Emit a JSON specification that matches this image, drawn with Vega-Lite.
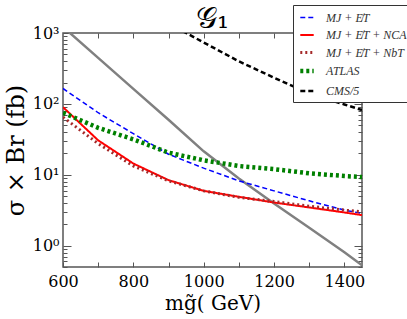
{
  "$schema": "https://vega.github.io/schema/vega-lite/v6.json",
  "width": 299,
  "height": 234,
  "autosize": "none",
  "padding": {"left": 63, "top": 33, "right": 45, "bottom": 52},
  "title": {"text": "𝒢₁", "font": "DejaVu Serif", "fontSize": 30, "fontWeight": "normal", "color": "black", "offset": 2, "dy": 31},
  "config": {
    "view": {"stroke": "#555", "strokeWidth": 1.5},
    "axis": {"grid": false, "domain": false, "tickColor": "#555", "labelColor": "black", "labelFont": "DejaVu Serif", "labelFontSize": 16, "titleFont": "DejaVu Serif", "titleFontWeight": "normal", "titleColor": "black", "labelOverlap": false, "labelFlush": false}
  },
  "datasets": {
    "gray": [
      {"m": 600, "v": 1220}, {"m": 700, "v": 445}, {"m": 800, "v": 163}, {"m": 900, "v": 59.7},
      {"m": 1000, "v": 21.4}, {"m": 1100, "v": 8.85}, {"m": 1200, "v": 3.93}, {"m": 1300, "v": 1.79},
      {"m": 1400, "v": 0.81}, {"m": 1450, "v": 0.53}
    ],
    "curves": [
      {"s": "MJ + E̸T", "m": 600, "v": 165}, {"s": "MJ + E̸T", "m": 700, "v": 75}, {"s": "MJ + E̸T", "m": 800, "v": 38},
      {"s": "MJ + E̸T", "m": 900, "v": 19.5}, {"s": "MJ + E̸T", "m": 1000, "v": 12.4}, {"s": "MJ + E̸T", "m": 1100, "v": 8.2},
      {"s": "MJ + E̸T", "m": 1200, "v": 5.93}, {"s": "MJ + E̸T", "m": 1300, "v": 4.29}, {"s": "MJ + E̸T", "m": 1400, "v": 3.17},
      {"s": "MJ + E̸T", "m": 1450, "v": 2.85},
      {"s": "MJ + E̸T + NCA", "m": 600, "v": 90}, {"s": "MJ + E̸T + NCA", "m": 700, "v": 30.6}, {"s": "MJ + E̸T + NCA", "m": 800, "v": 14.4},
      {"s": "MJ + E̸T + NCA", "m": 900, "v": 8.4}, {"s": "MJ + E̸T + NCA", "m": 1000, "v": 5.93}, {"s": "MJ + E̸T + NCA", "m": 1100, "v": 4.89},
      {"s": "MJ + E̸T + NCA", "m": 1200, "v": 4.06}, {"s": "MJ + E̸T + NCA", "m": 1300, "v": 3.46}, {"s": "MJ + E̸T + NCA", "m": 1400, "v": 2.94},
      {"s": "MJ + E̸T + NCA", "m": 1450, "v": 2.7},
      {"s": "MJ + E̸T + NbT", "m": 600, "v": 65}, {"s": "MJ + E̸T + NbT", "m": 700, "v": 27.5}, {"s": "MJ + E̸T + NbT", "m": 800, "v": 13.3},
      {"s": "MJ + E̸T + NbT", "m": 900, "v": 8.2}, {"s": "MJ + E̸T + NbT", "m": 1000, "v": 5.93}, {"s": "MJ + E̸T + NbT", "m": 1100, "v": 4.8},
      {"s": "MJ + E̸T + NbT", "m": 1200, "v": 4.2}, {"s": "MJ + E̸T + NbT", "m": 1300, "v": 3.6}, {"s": "MJ + E̸T + NbT", "m": 1400, "v": 3.17},
      {"s": "MJ + E̸T + NbT", "m": 1450, "v": 3.0},
      {"s": "ATLAS", "m": 600, "v": 75}, {"s": "ATLAS", "m": 700, "v": 46}, {"s": "ATLAS", "m": 800, "v": 31.6},
      {"s": "ATLAS", "m": 900, "v": 20.5}, {"s": "ATLAS", "m": 1000, "v": 16}, {"s": "ATLAS", "m": 1100, "v": 13.3},
      {"s": "ATLAS", "m": 1200, "v": 12}, {"s": "ATLAS", "m": 1300, "v": 10.5}, {"s": "ATLAS", "m": 1400, "v": 9.6},
      {"s": "ATLAS", "m": 1450, "v": 9.3},
      {"s": "CMS/5", "m": 900, "v": 1350}, {"s": "CMS/5", "m": 950, "v": 1000}, {"s": "CMS/5", "m": 1000, "v": 735},
      {"s": "CMS/5", "m": 1100, "v": 398}, {"s": "CMS/5", "m": 1200, "v": 234}, {"s": "CMS/5", "m": 1300, "v": 140},
      {"s": "CMS/5", "m": 1400, "v": 98}, {"s": "CMS/5", "m": 1450, "v": 82}
    ]
  },
  "layer": [
    {
      "data": {"name": "gray"},
      "mark": {"type": "line", "color": "#808080", "strokeWidth": 2.5, "clip": true},
      "encoding": {
        "x": {"field": "m", "type": "quantitative", "scale": {"domain": [600, 1450], "nice": false, "zero": false},
          "axis": {"orient": "bottom", "values": [600, 700, 800, 900, 1000, 1100, 1200, 1300, 1400], "labelExpr": "datum.value % 200 == 0 ? datum.value : ''", "tickSize": -5, "labelPadding": 11, "title": "mg̃( GeV)", "titleFontSize": 20, "titlePadding": 4}},
        "y": {"field": "v", "type": "quantitative", "scale": {"type": "log", "domain": [0.5, 1000], "nice": false},
          "axis": {"orient": "left", "values": [0.5, 0.6, 0.7, 0.8, 0.9, 1, 2, 3, 4, 5, 6, 7, 8, 9, 10, 20, 30, 40, 50, 60, 70, 80, 90, 100, 200, 300, 400, 500, 600, 700, 800, 900, 1000],
            "labelExpr": "datum.value == 1 ? '10⁰' : datum.value == 10 ? '10¹' : datum.value == 100 ? '10²' : datum.value == 1000 ? '10³' : ''",
            "tickSize": {"condition": {"test": "datum.value == 1 || datum.value == 10 || datum.value == 100 || datum.value == 1000", "value": -8}, "value": -4},
            "labelPadding": 12, "title": "σ × Br (fb)", "titleFontSize": 24, "titlePadding": 4}}
      }
    },
    {
      "data": {"name": "curves"},
      "mark": {"type": "line", "clip": true},
      "encoding": {
        "x": {"field": "m", "type": "quantitative", "axis": {"orient": "top", "values": [700, 800, 900, 1000, 1100, 1200, 1300, 1400], "labels": false, "tickSize": -5, "title": null}},
        "y": {"field": "v", "type": "quantitative",
          "axis": {"orient": "right", "values": [0.5, 0.6, 0.7, 0.8, 0.9, 1, 2, 3, 4, 5, 6, 7, 8, 9, 10, 20, 30, 40, 50, 60, 70, 80, 90, 100, 200, 300, 400, 500, 600, 700, 800, 900, 1000],
            "labels": false, "title": null,
            "tickSize": {"condition": {"test": "datum.value == 1 || datum.value == 10 || datum.value == 100 || datum.value == 1000", "value": -8}, "value": -4}}},
        "color": {"field": "s", "type": "nominal",
          "scale": {"domain": ["MJ + E̸T", "MJ + E̸T + NCA", "MJ + E̸T + NbT", "ATLAS", "CMS/5"], "range": ["#0000ff", "#ff0000", "#a52a2a", "#008000", "#000000"]},
          "legend": {"orient": "none", "legendX": 230, "legendY": -28, "title": null, "fillColor": "white", "strokeColor": "#333", "padding": 5, "labelFont": "Liberation Serif", "labelFontStyle": "italic", "labelFontSize": 12, "labelColor": "#333", "symbolType": "stroke", "symbolSize": 180, "rowPadding": 3, "labelOffset": 10}},
        "strokeDash": {"field": "s", "type": "nominal",
          "scale": {"domain": ["MJ + E̸T", "MJ + E̸T + NCA", "MJ + E̸T + NbT", "ATLAS", "CMS/5"], "range": [[5, 3], [1, 0], [2, 3], [3, 3], [5, 3]]}},
        "strokeWidth": {"field": "s", "type": "nominal",
          "scale": {"type": "ordinal", "domain": ["MJ + E̸T", "MJ + E̸T + NCA", "MJ + E̸T + NbT", "ATLAS", "CMS/5"], "range": [1.5, 2, 3, 4.5, 2.5]}}
      }
    }
  ],
  "resolve": {"axis": {"x": "independent", "y": "independent"}}
}
